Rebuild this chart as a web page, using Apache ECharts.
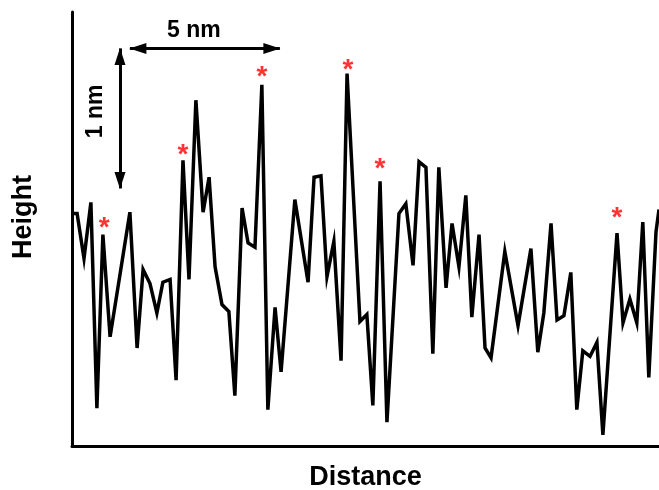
<!DOCTYPE html>
<html>
<head>
<meta charset="utf-8">
<script src="https://cdn.jsdelivr.net/npm/echarts@6/dist/echarts.min.js"></script>
<style>
  html, body { margin: 0; padding: 0; background: #fff; }
  #chart { width: 659px; height: 490px; }
</style>
</head>
<body>
<div id="chart"></div>
<script>
// height profile (distance in nm, height in nm)
const distance = [0.03, 0.17, 0.40, 0.63, 0.83, 1.03, 1.27, 1.93, 2.17, 2.37,
  2.60, 2.83, 3.03, 3.27, 3.47, 3.70, 3.90, 4.13, 4.37, 4.57,
  4.77, 5.00, 5.23, 5.43, 5.67, 5.87, 6.10, 6.33, 6.53, 6.77,
  6.97, 7.43, 7.87, 8.07, 8.30, 8.50, 8.73, 8.97, 9.17, 9.60,
  9.83, 10.03, 10.27, 10.50, 10.90, 11.13, 11.37, 11.57, 11.80, 12.03,
  12.23, 12.47, 12.67, 12.90, 13.13, 13.33, 13.57, 13.77, 13.97, 14.43,
  14.87, 15.30, 15.53, 15.73, 15.97, 16.17, 16.40, 16.63, 16.83, 17.03,
  17.27, 17.50, 17.70, 18.17, 18.37, 18.60, 18.83, 19.03, 19.23, 19.47,
  19.57];
const height = [1.66, 1.66, 1.34, 1.74, 0.27, 1.51, 0.78, 1.67, 0.70, 1.26,
  1.16, 0.95, 1.17, 1.19, 0.47, 2.04, 1.19, 2.47, 1.67, 1.92,
  1.28, 1.01, 0.96, 0.36, 1.70, 1.45, 1.42, 2.58, 0.26, 0.99,
  0.53, 1.76, 1.17, 1.92, 1.93, 1.21, 1.46, 0.61, 2.66, 0.89,
  0.94, 0.29, 1.89, 0.17, 1.66, 1.73, 1.29, 2.03, 1.99, 0.66,
  1.99, 1.13, 1.59, 1.28, 1.79, 0.92, 1.51, 0.70, 0.63, 1.39,
  0.86, 1.41, 0.67, 0.95, 1.59, 0.90, 0.93, 1.24, 0.26, 0.68,
  0.64, 0.74, 0.08, 1.52, 0.88, 1.05, 0.88, 1.60, 0.49, 1.53,
  1.69];

// red asterisks over the marked peaks
const starDistance = [1.07, 3.70, 6.33, 9.20, 10.27, 18.17];
const starHeight = [1.59, 2.11, 2.67, 2.72, 2.01, 1.66];

// scale bars (arrow tip to arrow tip)
const barX = [1.93, 6.93];   // 5 nm, drawn at barXHeight
const barXHeight = 2.84;
const barY = [1.84, 2.84];   // 1 nm, drawn at barYDistance
const barYDistance = 1.6;

const font = '"Liberation Sans", Arial, sans-serif';

const chart = echarts.init(document.getElementById('chart'));
chart.setOption({
  animation: false,
  grid: { left: 72, right: 0, top: 12, bottom: 44, outerBoundsMode: 'none', containLabel: false },
  xAxis: {
    type: 'value', min: 0, max: 19.57,
    name: 'Distance', nameLocation: 'middle', nameGap: 18,
    nameTextStyle: { fontFamily: font, fontSize: 27, fontWeight: 'bold', color: '#000' },
    axisLine: { lineStyle: { color: '#000', width: 3 } },
    axisTick: { show: false }, axisLabel: { show: false }, splitLine: { show: false }
  },
  yAxis: {
    type: 'value', min: 0, max: 3.1,
    name: 'Height', nameLocation: 'middle', nameGap: 35, nameRotate: 90,
    nameTextStyle: { fontFamily: font, fontSize: 27, fontWeight: 'bold', color: '#000', padding: [0, 0, 0, 24] },
    axisLine: { lineStyle: { color: '#000', width: 3 } },
    axisTick: { show: false }, axisLabel: { show: false }, splitLine: { show: false }
  },
  series: [
    {
      type: 'line',
      data: distance.map((d, i) => [d, height[i]]),
      showSymbol: false, symbol: 'none',
      lineStyle: { color: '#000', width: 3.5, join: 'miter', miterLimit: 8 },
      markLine: {
        silent: true,
        symbol: ['triangle', 'triangle'],
        symbolSize: [11, 17],
        symbolOffset: [[0, 8], [0, 8]],
        lineStyle: { color: '#000', width: 3, type: 'solid' },
        label: {
          show: true, position: 'middle', color: '#000',
          fontFamily: font, fontSize: 23, fontWeight: 'bold'
        },
        data: [
          [{ coord: [barX[0], barXHeight], label: { formatter: '5 nm', distance: 6, padding: [0, 22, 0, 0] } },
           { coord: [barX[1], barXHeight] }],
          [{ coord: [barYDistance, barY[0]], label: { formatter: '1 nm', distance: 13, padding: [0, 0, 0, 14] } },
           { coord: [barYDistance, barY[1]] }]
        ]
      }
    },
    {
      type: 'scatter',
      data: starDistance.map((d, i) => [d, starHeight[i]]),
      symbolSize: 0,
      label: {
        show: true, position: 'inside', formatter: '*',
        color: '#ff0000', fontFamily: font, fontSize: 28, fontWeight: 'bold',
        offset: [0, 5]
      }
    }
  ]
});
</script>
</body>
</html>
